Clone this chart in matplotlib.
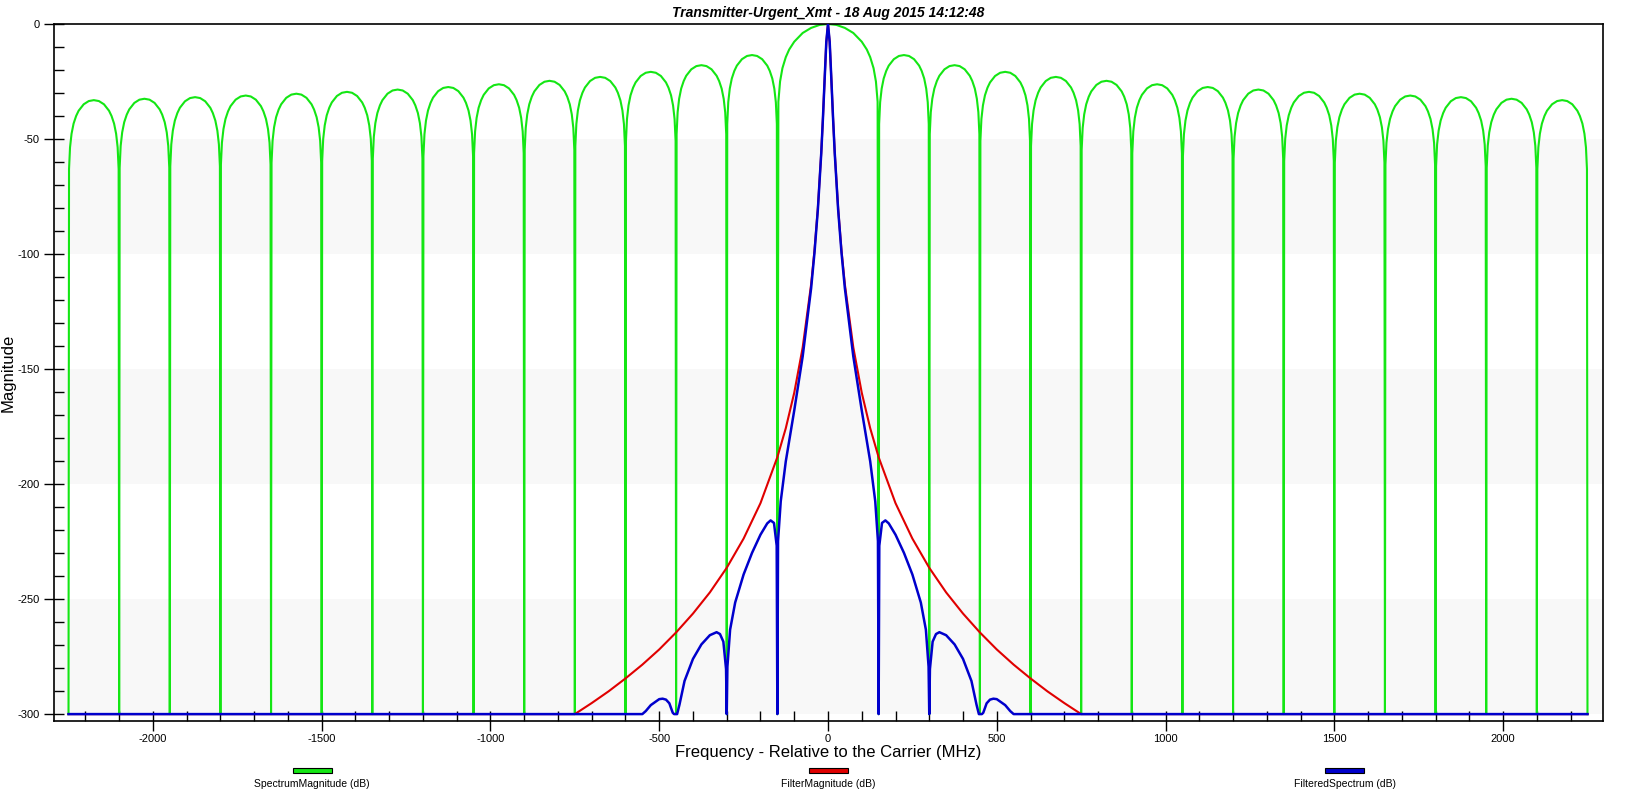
import numpy as np
import matplotlib
matplotlib.use('Agg')
import matplotlib.pyplot as plt
from matplotlib.patches import Rectangle
from matplotlib.ticker import MultipleLocator

plt.rcParams['font.family'] = ['Liberation Sans', 'DejaVu Sans']
plt.rcParams['axes.unicode_minus'] = False

# ---- data (MHz, dB) ----
null_step = 150          # nulls of the spectrum every 150 MHz
span = 2250              # data runs from -2250 to 2250 MHz
floor_db = -300

# peak level of each side lobe, from the carrier outwards
side_peak_db = [-13.5, -17.9, -20.8, -23.0, -24.7, -26.2, -27.4,
                -28.5, -29.5, -30.3, -31.1, -31.8, -32.5, -33.1]

# shape of a side lobe: fraction across the lobe, level below the lobe peak
side_t = [0.01, 0.03, 0.06, 0.1, 0.15, 0.2, 0.3, 0.4, 0.5,
          0.6, 0.7, 0.8, 0.85, 0.9, 0.94, 0.97, 0.99]
side_rel_db = [-30, -20.5, -14.6, -10.2, -6.9, -4.6, -1.8, -0.4, 0,
               -0.4, -1.8, -4.6, -6.9, -10.2, -14.6, -20.5, -30]

# main lobe (one half, mirrored)
main_f = [0, 25, 50, 75, 100, 115, 125, 135, 142, 147]
main_db = [0, -0.4, -1.7, -3.9, -7.7, -11.1, -14.4, -19.2, -25.0, -33.8]

# filter magnitude (one half, mirrored)
red_f = [0, 5, 10, 15, 20, 30, 40, 50, 75, 100, 125, 150, 200, 250, 300,
         350, 400, 450, 500, 550, 600, 650, 700, 750, 2250]
red_db = [0, -7.8, -24.1, -40.9, -55.9, -80.0, -98.4, -113.2, -140.6, -160.3,
          -175.7, -188.3, -208.3, -223.7, -236.4, -247.1, -256.3, -264.5,
          -271.9, -278.5, -284.5, -290.1, -295.2, -300, -300]

# filtered spectrum (one half, mirrored)
blue_f = [0, 5, 10, 15, 20, 30, 40, 50, 75, 100, 125, 140, 148, 150,
          152, 160, 170, 180, 200, 225, 250, 275, 290, 298, 300,
          302, 310, 320, 330, 350, 375, 400, 425, 440, 447, 450, 456,
          460, 470, 480, 490, 500, 525, 540, 550, 2250]
blue_db = [0, -7.8, -24.2, -41.0, -56.2, -80.6, -99.4, -114.9, -144.5, -168.0,
           -190.1, -207.5, -224.8, -300,
           -226.8, -216.9, -215.8, -217.1, -222.0, -229.9, -239.3, -251.5,
           -263.3, -279.4, -300,
           -280.4, -268.5, -265.2, -264.4, -265.7, -269.7, -276.0, -285.6,
           -295.9, -300, -300, -300,
           -299.4, -295.3, -293.7, -293.3, -293.5, -296.1, -298.7, -300, -300]

title = 'Transmitter-Urgent_Xmt - 18 Aug 2015 14:12:48'
labels = ['SpectrumMagnitude (dB)', 'FilterMagnitude (dB)', 'FilteredSpectrum (dB)']
colors = ['#14e614', '#e00000', '#0000cc']


def mirror(f, v):
    f = np.asarray(f, float)
    v = np.asarray(v, float)
    return np.concatenate([-f[::-1], f[1:]]), np.concatenate([v[::-1], v[1:]])


# build the green spectrum lobe by lobe
gx, gy = [], []
n_side = len(side_peak_db)
# left side lobes, outermost first
for k in range(n_side, 0, -1):
    a = -(k + 1) * null_step
    gx.append(a); gy.append(floor_db)
    for t, r in zip(side_t, side_rel_db):
        gx.append(a + t * null_step)
        gy.append(side_peak_db[k - 1] + r)
mf, mv = mirror(main_f, main_db)
gx.append(-null_step); gy.append(floor_db)
gx.extend(mf); gy.extend(mv)
for k in range(1, n_side + 1):
    a = k * null_step
    gx.append(a); gy.append(floor_db)
    for t, r in zip(side_t, side_rel_db):
        gx.append(a + t * null_step)
        gy.append(side_peak_db[k - 1] + r)
gx.append(span); gy.append(floor_db)

rx, ry = mirror(red_f, red_db)
bx, by = mirror(blue_f, blue_db)

# ---- figure ----
fig = plt.figure(figsize=(16.25, 7.91), dpi=100)
ax = fig.add_axes([54 / 1625, 1 - 721 / 791, 1549 / 1625, 697 / 791])

for lo in (-100, -200, -300):
    ax.axhspan(lo, lo + 50, color='#f8f8f8', zorder=0, lw=0)

ax.plot(gx, gy, color=colors[0], lw=1.5, zorder=2)
ax.plot(rx, ry, color=colors[1], lw=1.5, zorder=3)
ax.plot(bx, by, color=colors[2], lw=1.8, zorder=4)

ax.set_xlim(-2293, 2296)
ax.set_ylim(-303, 0)
ax.xaxis.set_major_locator(MultipleLocator(500))
ax.xaxis.set_minor_locator(MultipleLocator(100))
ax.yaxis.set_major_locator(MultipleLocator(50))
ax.yaxis.set_minor_locator(MultipleLocator(10))
ax.tick_params(which='major', direction='inout', length=14, width=1, labelsize=8)
ax.tick_params(which='minor', direction='in', length=7, width=1)
ax.tick_params(axis='x', pad=2)
for s in ax.spines.values():
    s.set_linewidth(1.2)

ax.set_xlabel('Frequency - Relative to the Carrier (MHz)', fontsize=12, labelpad=1)
ax.set_ylabel('Magnitude', fontsize=12)
ax.yaxis.set_label_coords(-0.0245, 0.5)
ax.set_title(title, fontsize=10, fontweight='bold', fontstyle='italic', pad=5)

# legend: swatch with the label under it
for i, (lab, c) in enumerate(zip(labels, colors)):
    cx = (54 + 1549 * (2 * i + 1) / 6) / 1625
    fig.add_artist(Rectangle((cx - 19.5 / 1625, 18 / 791), 39 / 1625, 5 / 791,
                             transform=fig.transFigure, facecolor=c,
                             edgecolor='black', lw=0.8))
    fig.text(cx, 7 / 791, lab, ha='center', va='center', fontsize=7.5)

fig.savefig('out.png', dpi=100)
